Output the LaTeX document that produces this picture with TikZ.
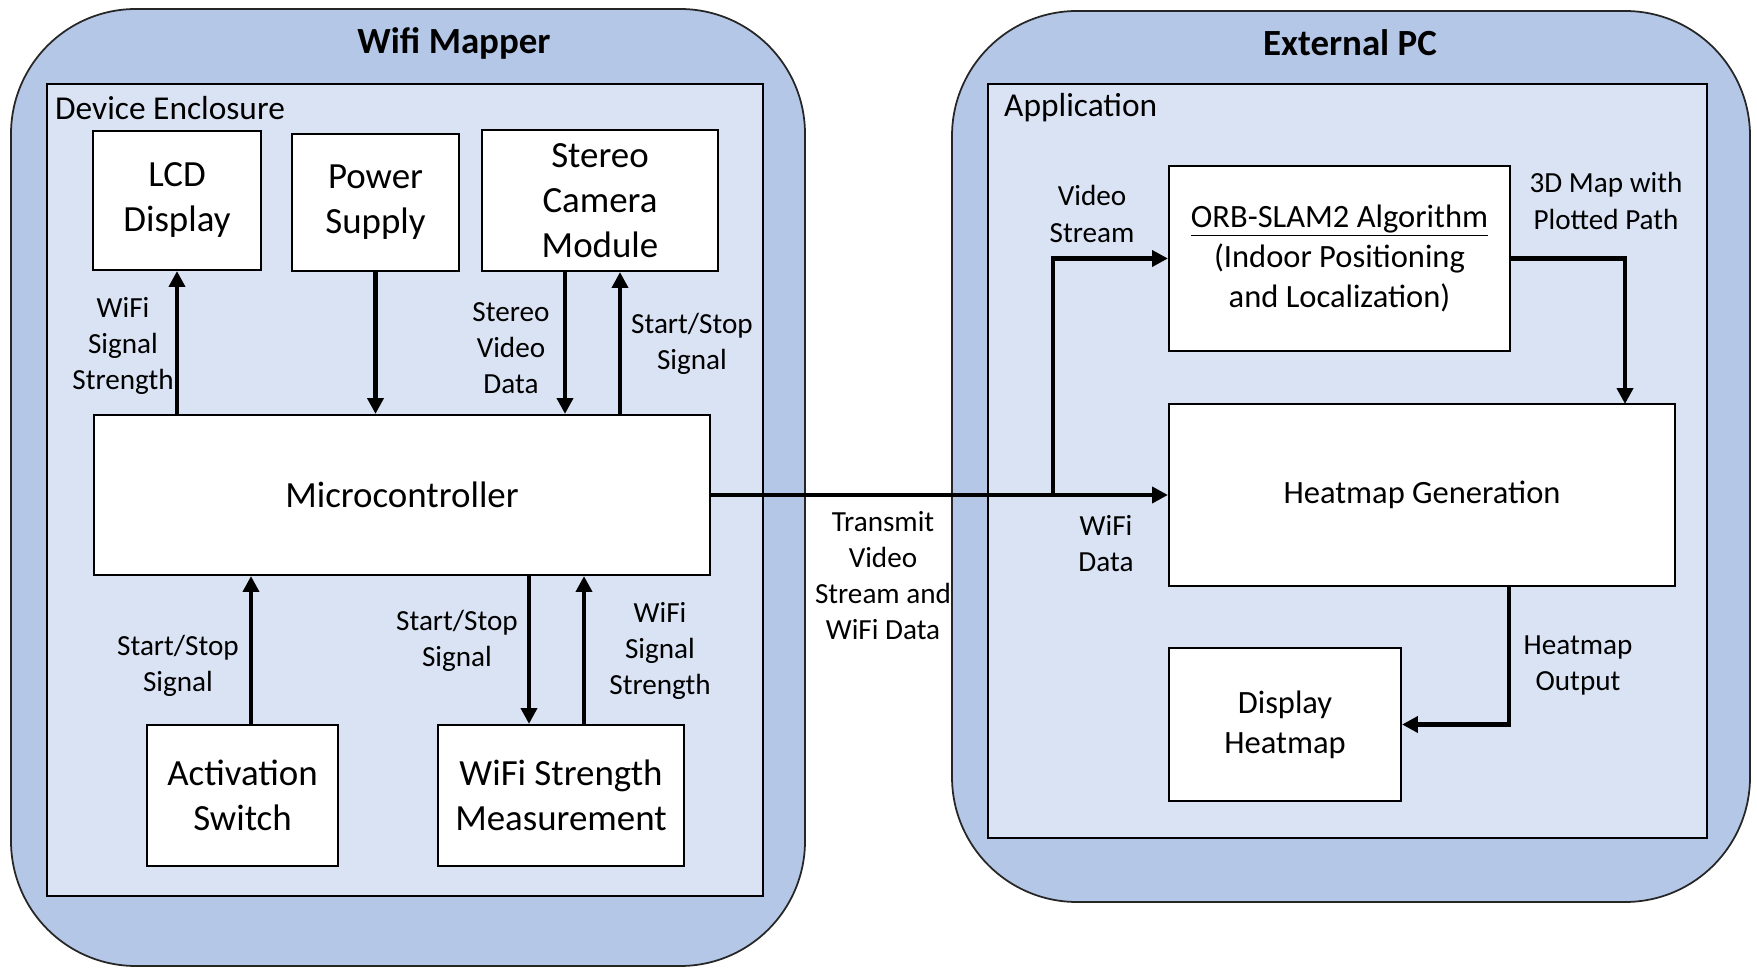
\documentclass[tikz,border=0pt]{standalone}
\usepackage{fontspec}
\setmainfont{Carlito}
\usetikzlibrary{arrows.meta,calc}

\definecolor{outerblue}{HTML}{B4C7E7}
\definecolor{innerblue}{HTML}{DAE3F3}

\tikzset{
    panel/.style={draw=black!85, line width=1pt, fill=outerblue, rounded corners=2.5cm},
    frame/.style={draw=black, line width=1.4pt, fill=innerblue},
    blk/.style={draw=black, line width=1.2pt, fill=white, align=center, inner sep=0pt,
        font=\fontsize{21}{25.6}\selectfont},
    algblk/.style={blk, font=\fontsize{18.5}{22.8}\selectfont},
    lbl/.style={align=center, font=\fontsize{16.6}{20.5}\selectfont},
    ttl/.style={font=\fontsize{21}{25}\selectfont\bfseries},
    arr/.style={line width=2.3pt, -{Triangle[length=9pt,width=9pt]}},
    wire/.style={line width=2.3pt}
}

\begin{document}
\begin{tikzpicture}

    \useasboundingbox (0,0) rectangle (35.14,19.40);

    % outer panels
    \draw [panel] (0.22,0.08) rectangle (16.10,19.22);
    \draw [panel] (19.04,1.36) rectangle (35.00,19.18);
    \node [ttl] (mappertitle) at (9.08,18.54) {Wifi Mapper};
    \node [ttl] (pctitle) at (27.00,18.54) {External PC};

    % inner frames
    \draw [frame] (0.94,1.48) rectangle (15.26,17.72);
    \draw [frame] (19.76,2.64) rectangle (34.14,17.72);
    \node [anchor=west, font=\fontsize{19}{23}\selectfont] (enclosure) at (0.98,17.24) {Device Enclosure};
    \node [anchor=west, font=\fontsize{19}{23}\selectfont] (application) at (19.96,17.24) {Application};

    % wifi mapper blocks
    \node [blk, minimum width=3.36cm, minimum height=2.78cm] (lcd) at (3.54,15.39) {LCD\\Display};
    \node [blk, minimum width=3.34cm, minimum height=2.74cm] (power) at (7.51,15.35) {Power\\Supply};
    \node [blk, minimum width=4.72cm, minimum height=2.82cm] (cam) at (12.00,15.39) {Stereo\\Camera\\Module};
    \node [blk, minimum width=12.32cm, minimum height=3.20cm] (mcu) at (8.04,9.50) {Microcontroller};
    \node [blk, minimum width=3.82cm, minimum height=2.82cm] (switch) at (4.85,3.49) {Activation\\Switch};
    \node [blk, minimum width=4.92cm, minimum height=2.82cm] (wsm) at (11.22,3.49) {WiFi Strength\\Measurement};

    % external pc blocks
    \node [algblk, minimum width=6.82cm, minimum height=3.70cm] (orb) at (26.79,14.23)
        {\underline{ORB-SLAM2 Algorithm}\\(Indoor Positioning\\and Localization)};
    \node [algblk, minimum width=10.12cm, minimum height=3.64cm] (hg) at (28.44,9.50) {Heatmap Generation};
    \node [algblk, minimum width=4.64cm, minimum height=3.06cm] (dh) at (25.70,4.91) {Display\\Heatmap};

    % arrows inside the enclosure
    \draw [arr] (mcu.north -| lcd.south) -- (lcd.south);
    \draw [arr] (power.south) -- (power.south |- mcu.north);
    \draw [arr] ([xshift=-7mm]cam.south) -- ([xshift=-7mm]cam.south |- mcu.north);
    \draw [arr] ([xshift=4mm]cam.south |- mcu.north) -- ([xshift=4mm]cam.south);
    \draw [arr] ([xshift=1.7mm]switch.north) -- ([xshift=1.7mm]switch.north |- mcu.south);
    \draw [arr] ([xshift=-6.4mm]wsm.north |- mcu.south) -- ([xshift=-6.4mm]wsm.north);
    \draw [arr] ([xshift=4.6mm]wsm.north) -- ([xshift=4.6mm]wsm.north |- mcu.south);

    % link to the external pc
    \coordinate (split) at (21.06,9.50);
    \coordinate (mapdrop) at (32.50,11.32);
    \coordinate (hgout) at (30.18,7.68);
    \draw [arr] (mcu.east) -- (hg.west);
    \draw [arr] (split) |- (orb.west);
    \draw [arr] (orb.east) -| (mapdrop);
    \draw [arr] (hgout) |- (dh.east);

    % labels
    \node [lbl] (l1) at (2.46,12.48) {WiFi\\Signal\\Strength};
    \node [lbl] (l2) at (10.22,12.44) {Stereo\\Video\\Data};
    \node [lbl] (l3) at (13.84,12.52) {Start/Stop\\Signal};
    \node [lbl] (l4) at (3.56,6.09) {Start/Stop\\Signal};
    \node [lbl] (l5) at (9.14,6.58) {Start/Stop\\Signal};
    \node [lbl] (l6) at (13.20,6.38) {WiFi\\Signal\\Strength};
    \node [lbl] (l7) at (17.66,7.88) {Transmit\\Video\\Stream and\\WiFi Data};
    \node [lbl] (l8) at (21.84,15.12) {Video\\Stream};
    \node [lbl] (l9) at (22.12,8.52) {WiFi\\Data};
    \node [lbl] (l10) at (32.12,15.38) {3D Map with\\Plotted Path};
    \node [lbl] (l11) at (31.56,6.09) {Heatmap\\Output};

\end{tikzpicture}
\end{document}
